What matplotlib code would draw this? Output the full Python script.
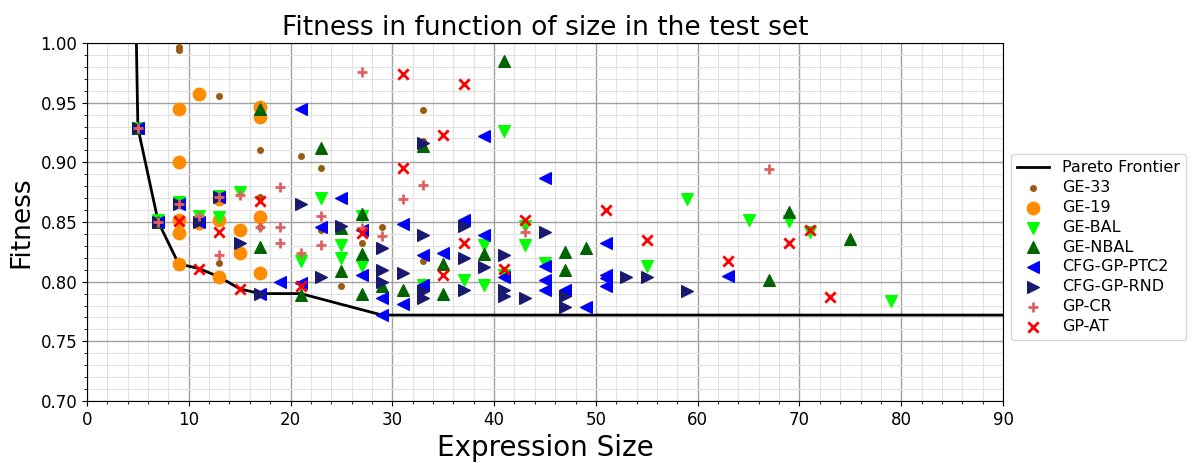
import matplotlib.pyplot as plt
import numpy as np

# Pareto frontier (size, fitness)
pareto_x = [4.6, 5, 7, 9, 11, 13, 15, 17, 21, 29, 90]
pareto_y = [1.12, 0.929, 0.850, 0.815, 0.811, 0.804, 0.794, 0.790, 0.790, 0.772, 0.772]

ge33_x = [5, 9, 9, 13, 17, 21, 23, 33, 33, 17, 13, 17, 23, 27, 29, 33, 25]
ge33_y = [0.929, 0.997, 0.994, 0.956, 0.910, 0.905, 0.895, 0.944, 0.918, 0.871,
          0.816, 0.846, 0.843, 0.832, 0.846, 0.817, 0.796]

ge19_x = [11, 9, 17, 17, 9, 9, 9, 9, 11, 13, 13, 13, 15, 15, 17, 17]
ge19_y = [0.957, 0.945, 0.946, 0.938, 0.900, 0.852, 0.841, 0.815, 0.849, 0.869,
          0.852, 0.804, 0.843, 0.824, 0.854, 0.807]

gebal_x = [5, 7, 9, 11, 13, 13, 15, 21, 23, 25, 25, 27, 27, 33, 37, 39, 39, 41,
           41, 43, 43, 45, 55, 59, 65, 69, 71, 79]
gebal_y = [0.929, 0.852, 0.867, 0.855, 0.872, 0.854, 0.875, 0.817, 0.870, 0.831,
           0.820, 0.855, 0.813, 0.797, 0.801, 0.831, 0.797, 0.926, 0.806, 0.847,
           0.831, 0.816, 0.813, 0.869, 0.852, 0.851, 0.842, 0.784]

genbal_x = [5, 7, 17, 17, 21, 23, 25, 25, 27, 27, 27, 29, 31, 33, 35, 35, 39, 41,
            47, 47, 49, 67, 69, 75]
genbal_y = [0.929, 0.850, 0.945, 0.829, 0.789, 0.912, 0.845, 0.809, 0.857, 0.823,
            0.790, 0.796, 0.793, 0.914, 0.815, 0.790, 0.823, 0.985, 0.825, 0.810,
            0.828, 0.801, 0.858, 0.836]

ptc2_x = [5, 7, 9, 11, 13, 17, 19, 21, 21, 23, 25, 27, 27, 29, 29, 31, 31, 33, 33,
          35, 37, 39, 39, 41, 45, 45, 45, 45, 47, 49, 51, 51, 51, 51, 63]
ptc2_y = [0.929, 0.850, 0.865, 0.850, 0.871, 0.790, 0.800, 0.945, 0.799, 0.846,
          0.870, 0.843, 0.806, 0.786, 0.772, 0.848, 0.781, 0.822, 0.797, 0.824,
          0.852, 0.922, 0.839, 0.804, 0.887, 0.813, 0.801, 0.793, 0.793, 0.779,
          0.832, 0.806, 0.803, 0.796, 0.805]

rnd_x = [5, 7, 9, 11, 13, 15, 17, 21, 23, 25, 29, 29, 29, 31, 33, 33, 33, 33, 37,
         37, 37, 39, 41, 41, 41, 43, 45, 47, 47, 53, 55, 59]
rnd_y = [0.929, 0.850, 0.865, 0.850, 0.871, 0.832, 0.790, 0.865, 0.804, 0.847,
         0.828, 0.810, 0.800, 0.807, 0.916, 0.839, 0.792, 0.786, 0.847, 0.820,
         0.793, 0.812, 0.822, 0.793, 0.788, 0.786, 0.842, 0.788, 0.779, 0.804,
         0.804, 0.792]

gpcr_x = [5, 7, 9, 11, 13, 13, 15, 17, 19, 19, 19, 21, 23, 23, 27, 27, 29, 31, 33,
          43, 67]
gpcr_y = [0.929, 0.850, 0.865, 0.855, 0.871, 0.822, 0.873, 0.846, 0.879, 0.846,
          0.832, 0.824, 0.855, 0.831, 0.976, 0.845, 0.838, 0.869, 0.881, 0.842,
          0.894]

gpat_x = [9, 11, 13, 15, 17, 21, 27, 31, 31, 35, 35, 37, 37, 41, 43, 51, 55, 63,
          69, 71, 73]
gpat_y = [0.851, 0.811, 0.842, 0.794, 0.868, 0.796, 0.841, 0.974, 0.895, 0.923,
          0.806, 0.966, 0.832, 0.811, 0.852, 0.860, 0.835, 0.817, 0.832, 0.843,
          0.787]

fig = plt.figure(figsize=(11.93, 4.63), dpi=100)
ax = fig.add_axes([87 / 1193, 1 - 401 / 463, 916 / 1193, 358 / 463])

ax.plot(pareto_x, pareto_y, color="black", linewidth=2, label="Pareto Frontier", zorder=2)
ax.scatter(ge33_x, ge33_y, s=16, marker="o", color="#9a5b14", label="GE-33", zorder=3)
ax.scatter(ge19_x, ge19_y, s=80, marker="o", color="darkorange", label="GE-19", zorder=3)
ax.scatter(gebal_x, gebal_y, s=70, marker="v", color="lime", label="GE-BAL", zorder=3)
ax.scatter(genbal_x, genbal_y, s=70, marker="^", color="darkgreen", label="GE-NBAL", zorder=3)
ax.scatter(ptc2_x, ptc2_y, s=70, marker="<", color="blue", label="CFG-GP-PTC2", zorder=3)
ax.scatter(rnd_x, rnd_y, s=70, marker=">", color="midnightblue", label="CFG-GP-RND", zorder=3)
ax.scatter(gpcr_x, gpcr_y, s=55, marker="+", color="#e06060", linewidths=2,
           label="GP-CR", zorder=3)
ax.scatter(gpat_x, gpat_y, s=55, marker="x", color="red", linewidths=2,
           label="GP-AT", zorder=3)

ax.set_xlim(0, 90)
ax.set_ylim(0.70, 1.00)
ax.set_xticks(np.arange(0, 91, 10))
ax.set_xticks(np.arange(0, 91, 2), minor=True)
ax.set_yticks(np.arange(0.70, 1.001, 0.05))
ax.set_yticks(np.arange(0.70, 1.001, 0.01), minor=True)
ax.grid(which="major", color="#a0a0a0", linewidth=1)
ax.grid(which="minor", color="#e2e2e2", linewidth=0.8)
ax.set_axisbelow(True)
ax.tick_params(labelsize=12)

ax.set_title("Fitness in function of size in the test set", fontsize=19)
ax.set_xlabel("Expression Size", fontsize=20)
ax.set_ylabel("Fitness", fontsize=19)
ax.legend(loc="center left", bbox_to_anchor=(1.0, 0.43), fontsize=11.5,
          labelspacing=0.3)

fig.savefig("out.png", dpi=100)
plt.close(fig)
